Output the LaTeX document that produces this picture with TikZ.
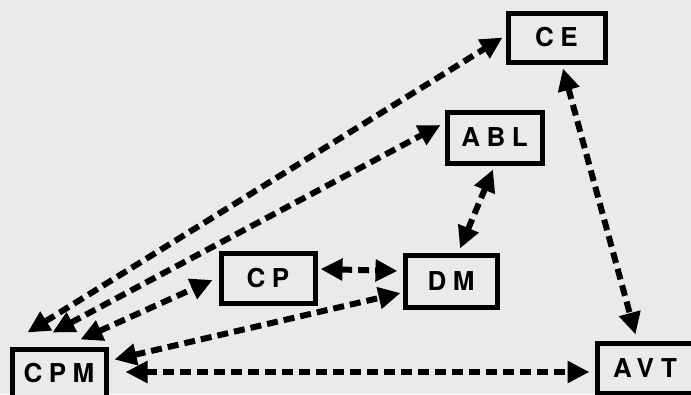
\documentclass[tikz,border=0pt]{standalone}
\usepackage{fontspec}
\setmainfont{TeX Gyre Heros}
\newfontfamily\boxfont{TeX Gyre Heros}[LetterSpace=25]
\usetikzlibrary{arrows.meta,calc}
\definecolor{paper}{HTML}{EAEAEA}
\begin{document}
\begin{tikzpicture}[x=1pt,y=-1pt,
  box/.style={draw=black,line width=5pt,fill=paper,inner sep=0pt,
    font=\boxfont\bfseries\fontsize{26pt}{26pt}\selectfont},
  link/.style={line width=6pt,dash pattern=on 11pt off 6pt,
    {Triangle[length=22pt,width=21pt]}-{Triangle[length=22pt,width=21pt]}}]
\fill[paper] (0,0) rectangle (691,394);
\useasboundingbox (0,0) rectangle (691,394);
\clip (0,0) rectangle (691,394);
\node[box,minimum width=97pt,minimum height=49pt] (ce) at (556.5,37.5) {CE};
\node[box,minimum width=95pt,minimum height=51pt] (abl) at (494.5,137.5) {ABL};
\node[box,minimum width=94pt,minimum height=50pt] (cp) at (268,278) {CP};
\node[box,minimum width=92pt,minimum height=52pt] (dm) at (451,281) {DM};
\node[box,minimum width=94pt,minimum height=49pt] (cpm) at (59,373.5) {CPM};
\node[box,minimum width=96pt,minimum height=50pt] (avt) at (645,368) {AVT};
\draw[link] ($(cpm.north west)+(18,-14)$) -- ($(ce.west)+(-3,0)$);
\draw[link] ($(cpm.north west)+(43,-14)$) -- ($(abl.west)+(-4,-12.5)$);
\draw[link] ($(cpm.north west)+(71,-7)$) -- ($(cp.west)+(-6,2)$);
\draw[link] ($(cpm.north east)+(6,13)$) -- ($(dm.west)+(-2,12)$);
\draw[link] ($(cp.east)+(3,-9)$) -- ($(dm.west)+(-5,-10)$);
\draw[link] ($(dm.north)+(9,-4)$) -- ($(abl.south)+(-1.5,4)$);
\draw[link] ($(ce.south)+(6.5,4)$) -- ($(avt.north)+(-9.5,-6)$);
\draw[link] ($(cpm.east)+(17,-1.5)$) -- ($(avt.west)+(-5,4)$);
\end{tikzpicture}
\end{document}
